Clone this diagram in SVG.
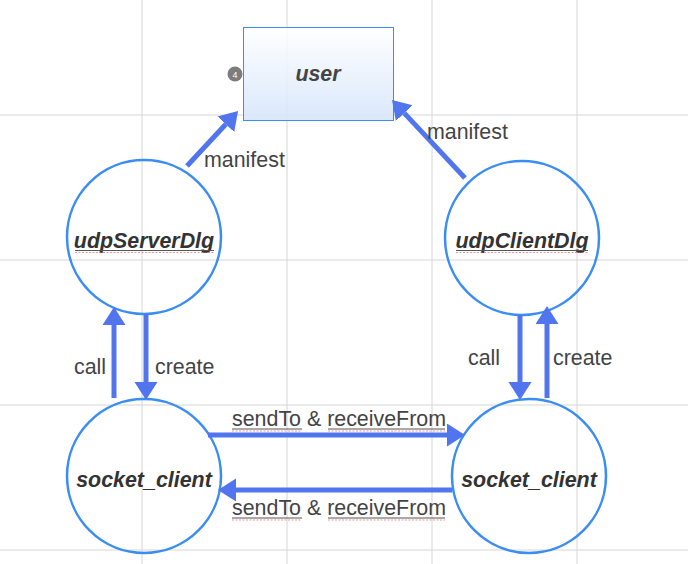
<svg xmlns="http://www.w3.org/2000/svg" width="688" height="564" viewBox="0 0 688 564">
<defs>
<linearGradient id="ug" x1="0" y1="0" x2="0" y2="1">
<stop offset="0" stop-color="#ffffff"/>
<stop offset="1" stop-color="#d5e5fb"/>
</linearGradient>
<marker id="ah" markerUnits="userSpaceOnUse" markerWidth="19" markerHeight="24" refX="0" refY="11.5" orient="auto" viewBox="0 0 19 24">
<path d="M0,0 L18,11.5 L0,23 z" fill="#5175ee"/>
</marker>
<style>
.grid{stroke:#d6d6d6;stroke-width:1}
.node{fill:none;stroke:#3a8df3;stroke-width:2.5}
.nl{font-family:"Liberation Sans",Arial,sans-serif;font-size:21.4px;font-weight:bold;font-style:italic;fill:#333;text-anchor:middle}
.el{font-family:"Liberation Sans",Arial,sans-serif;font-size:21.4px;fill:#444}
.conn line{stroke:#5175ee;stroke-width:5;marker-end:url(#ah)}
.ul{stroke:#555;stroke-width:1}
.sp{stroke:#e05555;stroke-width:1;stroke-dasharray:2 1.5;opacity:0.6}
</style>
</defs>
<rect width="688" height="564" fill="#ffffff"/>
<g id="grid">
<line class="grid" x1="142" y1="0" x2="142" y2="564"/>
<line class="grid" x1="287" y1="0" x2="287" y2="564"/>
<line class="grid" x1="432" y1="0" x2="432" y2="564"/>
<line class="grid" x1="577" y1="0" x2="577" y2="564"/>
<line class="grid" x1="0" y1="115" x2="688" y2="115"/>
<line class="grid" x1="0" y1="260" x2="688" y2="260"/>
<line class="grid" x1="0" y1="405" x2="688" y2="405"/>
<line class="grid" x1="0" y1="550" x2="688" y2="550"/>
</g>
<g id="user">
<rect x="243.5" y="27.5" width="150" height="93" fill="url(#ug)" fill-opacity="0.88" stroke="#3a8df3" stroke-width="1"/>
<text class="nl" x="318" y="81" style="fill:#444">user</text>
<circle cx="235" cy="74" r="7.5" fill="#7d7d7d"/>
<text x="235" y="77.5" font-family="Liberation Sans,sans-serif" font-size="9" fill="#fff" text-anchor="middle">4</text>
</g>
<g id="udpServerDlg">
<circle class="node" cx="144" cy="237" r="77"/>
<text class="nl" x="144" y="248">udpServerDlg</text>
<line class="ul" x1="75" y1="250.5" x2="214" y2="250.5"/>
<line class="sp" x1="75" y1="252.5" x2="214" y2="252.5"/>
</g>
<g id="udpClientDlg">
<circle class="node" cx="522" cy="238" r="77"/>
<text class="nl" x="522" y="248">udpClientDlg</text>
<line class="ul" x1="456" y1="250.5" x2="588" y2="250.5"/>
<line class="sp" x1="456" y1="252.5" x2="588" y2="252.5"/>
</g>
<g id="socket_client_left">
<circle class="node" cx="144" cy="476" r="77"/>
<text class="nl" x="144" y="487">socket_client</text>
</g>
<g id="socket_client_right">
<circle class="node" cx="529" cy="476" r="77"/>
<text class="nl" x="529" y="487">socket_client</text>
</g>
<g id="connectors" class="conn">
<line x1="187" y1="166" x2="225.8" y2="124.2"/>
<line x1="465" y1="178" x2="404.3" y2="113.1"/>
<line x1="114" y1="398" x2="114" y2="325"/>
<line x1="146" y1="314" x2="146" y2="382"/>
<line x1="520" y1="315" x2="520" y2="382"/>
<line x1="547" y1="398" x2="547" y2="324"/>
<line x1="208" y1="435" x2="447" y2="435"/>
<line x1="452" y1="490" x2="236" y2="490"/>
</g>
<g id="labels">
<text class="el" x="204" y="167">manifest</text>
<text class="el" x="427" y="139">manifest</text>
<text class="el" x="74" y="374">call</text>
<text class="el" x="155" y="374">create</text>
<text class="el" x="468" y="365">call</text>
<text class="el" x="553" y="365">create</text>
<text class="el" x="232" y="426">sendTo &amp; receiveFrom</text>
<line class="ul" x1="232" y1="429" x2="302" y2="429"/>
<line class="ul" x1="328" y1="429" x2="445" y2="429"/>
<line class="sp" x1="232" y1="431" x2="302" y2="431"/>
<line class="sp" x1="328" y1="431" x2="445" y2="431"/>
<text class="el" x="232" y="515">sendTo &amp; receiveFrom</text>
<line class="ul" x1="232" y1="518" x2="302" y2="518"/>
<line class="ul" x1="328" y1="518" x2="445" y2="518"/>
<line class="sp" x1="232" y1="520" x2="302" y2="520"/>
<line class="sp" x1="328" y1="520" x2="445" y2="520"/>
</g>
</svg>
